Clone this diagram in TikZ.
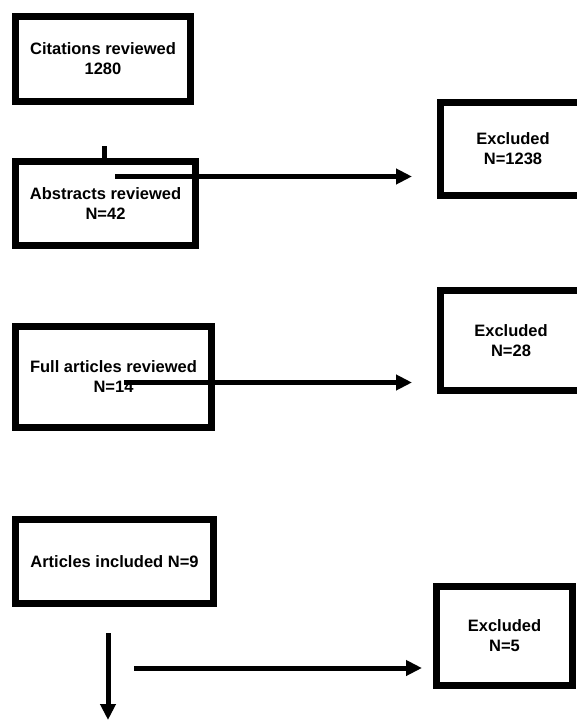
\documentclass[tikz,border=0pt]{standalone}
\usepackage{fontspec}
\setmainfont{Liberation Sans}
\usetikzlibrary{arrows.meta}
\tikzset{
  flowbox/.style={draw=black, line width=7pt, fill=white, inner sep=0pt,
    align=center, font=\fontsize{16.5}{20}\selectfont\bfseries},
  conn/.style={draw=black, line width=5pt},
  arr/.style={conn, -{Triangle[length=16pt,width=15pt]}}
}
\begin{document}
\begin{tikzpicture}[x=1pt,y=-1pt]
\useasboundingbox (0,0) rectangle (576,720);
\fill[white] (0,0) rectangle (576,720);
% boxes
\node[flowbox, minimum width=175pt, minimum height=85pt] (b1) at (103,59) {Citations reviewed\\1280};
\node[flowbox, minimum width=180pt, minimum height=84pt] (b2) at (105.5,203.5) {Abstracts reviewed\\N=42};
\node[flowbox, minimum width=196pt, minimum height=101pt] (b3) at (113.5,377) {Full articles reviewed\\N=14};
\node[flowbox, minimum width=198pt, minimum height=84pt] (b4) at (114.5,561.5) {Articles included N=9};
\node[flowbox, minimum width=145pt, minimum height=93pt] (e1) at (513,149) {Excluded\\N=1238};
\node[flowbox, minimum width=141pt, minimum height=100pt] (e2) at (511,340.5) {Excluded\\N=28};
\node[flowbox, minimum width=136pt, minimum height=99pt] (e3) at (504.5,636) {Excluded\\N=5};
% connector coordinates
\coordinate (s1) at (104,146);
\coordinate (a1s) at (115,176.5);
\coordinate (a1e) at (412,176.5);
\coordinate (a2s) at (124,382.5);
\coordinate (a2e) at (412,382.5);
\coordinate (v1s) at (108,633);
\coordinate (v1e) at (108,720);
\coordinate (a3s) at (134,668);
\coordinate (a3e) at (422,668);
% connectors
\draw[conn] (s1) -- (s1 |- b2.north);
\draw[arr] (a1s) -- (a1e);
\draw[arr] (a2s) -- (a2e);
\draw[arr] (v1s) -- (v1e);
\draw[arr] (a3s) -- (a3e);
\end{tikzpicture}
\end{document}
